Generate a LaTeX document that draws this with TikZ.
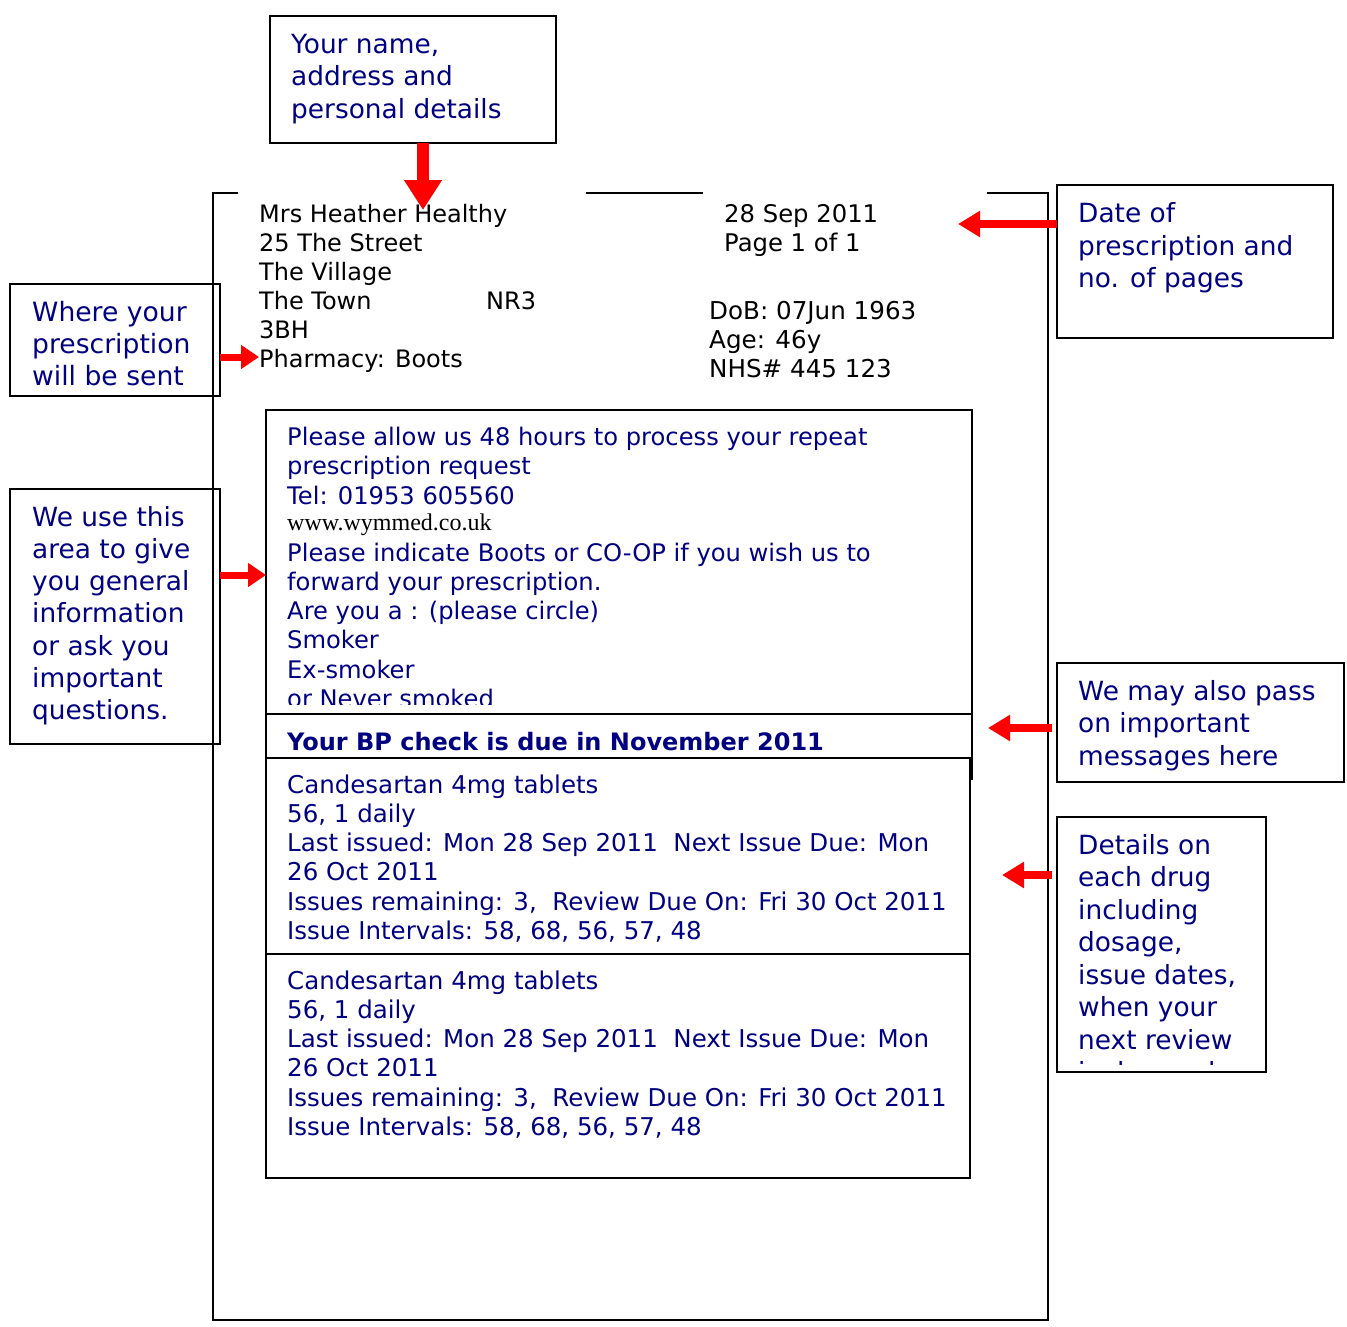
\documentclass[tikz,border=0pt]{standalone}
\usepackage{fontspec}
\setmainfont{DejaVu Sans}
\newfontfamily\serifw{Liberation Serif}
\usetikzlibrary{arrows.meta}
\definecolor{navy}{RGB}{0,0,128}
\definecolor{arrred}{RGB}{255,0,0}
\begin{document}
\begin{tikzpicture}[x=1pt,y=-1pt,
  notebox/.style={draw=black, line width=2.6pt, anchor=north west, inner sep=0pt, outer sep=0pt},
  formbox/.style={draw=black, line width=1.8pt, anchor=north west, inner sep=0pt, outer sep=0pt},
  notetxt/.style={anchor=base west, inner sep=0pt, text=navy, font=\fontsize{26.4}{32.5}\selectfont},
  addrtxt/.style={anchor=base west, inner sep=0pt, text=black, font=\fontsize{24}{29}\selectfont},
  formtxt/.style={anchor=base west, inner sep=0pt, text=navy, font=\fontsize{24.2}{29.3}\selectfont},
  drugtxt/.style={anchor=base west, inner sep=0pt, text=navy, font=\fontsize{24.5}{29.3}\selectfont},
  redarrow/.style={draw=arrred, line width=8pt, -{Triangle[length=22pt,width=25pt]}},
  bigarrow/.style={draw=arrred, line width=12pt, -{Triangle[length=30pt,width=36pt]}},
]
\useasboundingbox (0,0) rectangle (1347,1326);
\fill[white] (0,0) rectangle (1347,1326);

% page outline
\draw[line width=2pt] (238,193) -- (213,193) -- (213,1320) -- (1048,1320) -- (1048,193) -- (987,193);
\draw[line width=2pt] (586,193) -- (703,193);

% annotation boxes
\node[notebox, minimum width=286pt, minimum height=127pt] (nameBox) at (270,16) {};
\node[notetxt] (nameTxt) at (291,53) {\parbox[t]{300pt}{\raggedright Your name,\\address and\\personal details}};

\node[notebox, minimum width=276pt, minimum height=153pt] (dateBox) at (1057,185) {};
\node[notetxt] (dateTxt) at (1078,222.5) {\parbox[t]{300pt}{\raggedright Date of\\prescription and\\no. of pages}};

\node[notebox, minimum width=210pt, minimum height=112pt] (whereBox) at (10,284) {};
\node[notetxt, font=\fontsize{26.6}{32}\selectfont] (whereTxt) at (32,321.5) {\parbox[t]{300pt}{\raggedright Where your\\prescription\\will be sent}};

\node[notebox, minimum width=210pt, minimum height=255pt] (useBox) at (10,489) {};
\node[notetxt, font=\fontsize{26.4}{32.3}\selectfont] (useTxt) at (32,526) {\parbox[t]{300pt}{\raggedright We use this\\area to give\\you general\\information\\or ask you\\important\\questions.}};

\node[notebox, minimum width=287pt, minimum height=119pt] (mayBox) at (1057,663) {};
\node[notetxt] (mayTxt) at (1078,700) {\parbox[t]{300pt}{\raggedright We may also pass\\on important\\messages here}};

\node[notebox, minimum width=209pt, minimum height=255pt] (detBox) at (1057,817) {};
\begin{scope}
\clip (1057,817) rectangle (1266,1064);
\node[notetxt] (detTxt) at (1078,854) {\parbox[t]{300pt}{\raggedright Details on\\each drug\\including\\dosage,\\issue dates,\\when your\\next review\\is due and}};
\end{scope}

% patient details
\node[addrtxt] (addr) at (259,222) {\parbox[t]{400pt}{\raggedright Mrs Heather Healthy\\25 The Street\\The Village\\\makebox[227pt][l]{The Town}NR3\\3BH\\Pharmacy: Boots}};
\node[addrtxt, font=\fontsize{24.3}{29}\selectfont] (dateInfo) at (724,222.5) {\parbox[t]{300pt}{\raggedright 28 Sep 2011\\Page 1 of 1}};
\node[addrtxt, font=\fontsize{24.6}{29}\selectfont] (dobInfo) at (709,319.5) {\parbox[t]{300pt}{\raggedright DoB: 07Jun 1963\\Age: 46y\\NHS\# 445 123}};
\coordinate (pharm) at (259,357);

% information box
\node[formbox, minimum width=706pt, minimum height=304pt] (infoBox) at (266,410) {};
\node[formtxt, font=\fontsize{24.2}{29.5}\selectfont] (infoA) at (287,445) {\parbox[t]{680pt}{\raggedright Please allow us 48 hours to process your repeat\\prescription request\\Tel: 01953 605560}};
\node[anchor=base west, inner sep=0pt, text=black, font=\serifw\fontsize{24}{26}\selectfont] (www) at (287,530) {www.wymmed.co.uk};
\begin{scope}
\clip (266,410) rectangle (972,704);
\node[formtxt] (infoB) at (287,561) {\parbox[t]{680pt}{\raggedright Please indicate Boots or CO-OP if you wish us to\\forward your prescription.\\Are you a : (please circle)\\Smoker\\Ex-smoker\\or Never smoked}};
\end{scope}

% BP message
\node[formbox, minimum width=706pt, minimum height=44pt] (bpBox) at (266,714) {};
\draw[line width=1.8pt] (bpBox.south east) -- ++(0,22);
\node[formtxt, font=\bfseries\fontsize{24}{29}\selectfont] (bpTxt) at (287,750) {Your BP check is due in November 2011};

% drug boxes
\node[formbox, minimum width=704pt, minimum height=196pt] (drugA) at (266,758) {};
\node[drugtxt] (drugAtxt) at (287,793) {\parbox[t]{680pt}{\raggedright Candesartan 4mg tablets\\56, 1 daily\\Last issued: Mon 28 Sep 2011~~Next Issue Due: Mon\\26 Oct 2011\\Issues remaining: 3,~~Review Due On: Fri 30 Oct 2011\\Issue Intervals: 58, 68, 56, 57, 48}};
\node[formbox, minimum width=704pt, minimum height=224pt] (drugB) at (266,954) {};
\node[drugtxt] (drugBtxt) at (287,989) {\parbox[t]{680pt}{\raggedright Candesartan 4mg tablets\\56, 1 daily\\Last issued: Mon 28 Sep 2011~~Next Issue Due: Mon\\26 Oct 2011\\Issues remaining: 3,~~Review Due On: Fri 30 Oct 2011\\Issue Intervals: 58, 68, 56, 57, 48}};

% arrows
\coordinate (nameTip) at (423,210);
\coordinate (dateTip) at (958,224);
\coordinate (mayTip) at (988,728);
\coordinate (detTip) at (1002,875);
\draw[bigarrow] (nameBox.south -| nameTip) -- (nameTip);
\draw[redarrow] (dateBox.west |- dateTip) -- (dateTip);
\draw[redarrow, line width=7pt, -{Triangle[length=18pt,width=23pt]}] (whereBox.east |- pharm) -- (pharm);
\draw[redarrow, line width=7pt, -{Triangle[length=18pt,width=23pt]}] (useBox.east |- 0,575) -- (infoBox.west |- 0,575);
\draw[redarrow, shorten <=5pt] (mayBox.west |- mayTip) -- (mayTip);
\draw[redarrow, shorten <=5pt] (detBox.west |- detTip) -- (detTip);
\end{tikzpicture}
\end{document}
